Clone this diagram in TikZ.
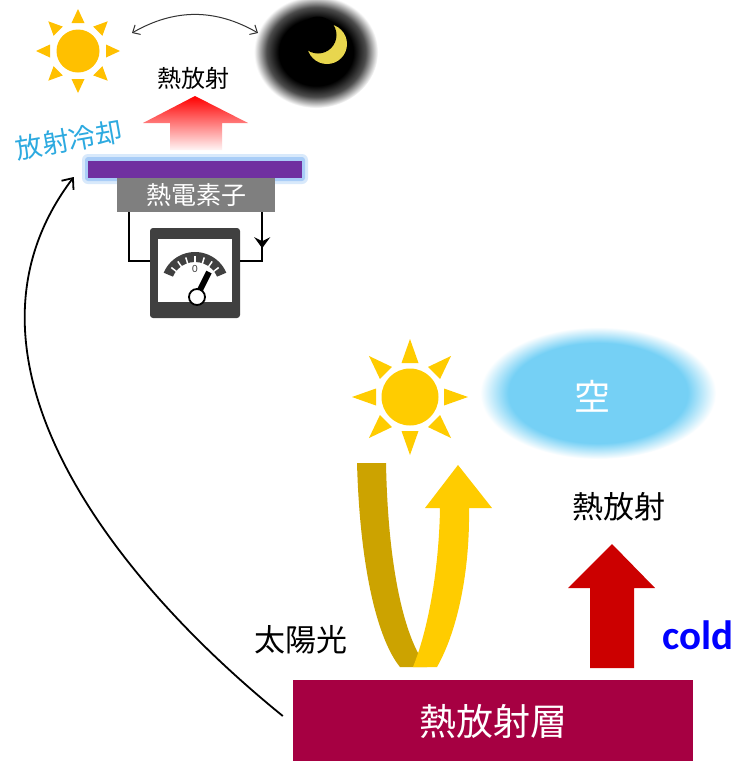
\documentclass[tikz,border=0pt]{standalone}
\usepackage{fontspec}
\newfontfamily\jpfont{Noto Sans CJK JP}
\newfontfamily\latinfont{Carlito}
\usetikzlibrary{arrows.meta}

\definecolor{sunyellow}{HTML}{FFC000}
\definecolor{lightyellow}{HTML}{FFCC00}
\definecolor{darkgold}{HTML}{CCA300}
\definecolor{moonyellow}{HTML}{E8D64E}
\definecolor{skyblue}{HTML}{75D0F5}
\definecolor{coolblue}{HTML}{2DAAE0}
\definecolor{barpurple}{HTML}{7030A0}
\definecolor{glowblue}{HTML}{A9CDF7}
\definecolor{tegray}{HTML}{7F7F7F}
\definecolor{meterdark}{HTML}{404040}
\definecolor{layerred}{HTML}{A60042}
\definecolor{heatred}{HTML}{CC0000}

% soft edges for the night sky and the sky
\pgfdeclareradialshading{moonglow}{\pgfpoint{0bp}{0bp}}{color(0bp)=(black); color(15bp)=(black); color(20bp)=(black!70); color(25bp)=(white); color(50bp)=(white)}
\pgfdeclareradialshading{skyglow}{\pgfpoint{0bp}{0bp}}{color(0bp)=(skyblue); color(19bp)=(skyblue); color(25bp)=(white); color(50bp)=(white)}

\tikzset{
  jp/.style={font=\jpfont\fontsize{#1}{#1}\selectfont},
  wire/.style={line width=2pt,black},
}

\begin{document}
\begin{tikzpicture}[x=1pt,y=-1pt]
\fill[white] (0,0) rectangle (737,761);
\useasboundingbox (0,0) rectangle (737,761);

% day and night
\begin{scope}[shift={(78,51)}]
\fill[sunyellow] (0,0) circle (21.5);
\foreach \a in {0,45,...,315}
  \fill[sunyellow,rotate=\a] (28,-6.5) -- (42,0) -- (28,6.5) -- cycle;
\end{scope}
\coordinate (daysun) at (78,51);
\shade[shading=moonglow] (316,52) ellipse (62 and 56);
\fill[moonyellow] (327,44) circle (20);
\fill[black] (318,35) circle (18.5);
\coordinate (nightmoon) at (316,52);
\draw[line width=1pt,black!80,{Straight Barb[length=6pt,width=11pt]}-{Straight Barb[length=6pt,width=11pt]}]
  ([shift={(54,-18)}]daysun) to[bend left=30] ([shift={(-58,-19)}]nightmoon);

% radiation from the top plate
\node[jp=24] (topheat) at (193,78) {熱放射};
\shade[top color=red,bottom color=red!4] (170,150) -- (170,123) -- (143,123) -- (195,96)
  -- (248,123) -- (222,123) -- (222,150) -- cycle;
\node[jp=27,text=coolblue,rotate=10,inner sep=0] (cooling) at (69,140) {放射冷却};

% plate, thermoelectric element and meter
\fill[glowblue!45,rounded corners=6] (82,154) rectangle (308,184);
\fill[glowblue,rounded corners=3] (85,157) rectangle (305,181);
\node[fill=barpurple,minimum width=214,minimum height=17,inner sep=0] (bar) at (195,169) {};
\node[fill=tegray,minimum width=158,minimum height=34,inner sep=0,text=white,jp=25] (tec) at (196,195) {熱電素子};
\node[fill=meterdark,rounded corners=3,minimum width=90,minimum height=90,inner sep=0] (meter) at (195,273) {};
\fill[white] (158,239) rectangle (232,302);
\begin{scope}[shift={(195,286)}]
\fill[meterdark] (203:34) arc[start angle=203,end angle=337,radius=34]
  -- (337:24) arc[start angle=337,end angle=203,radius=24] -- cycle;
\foreach \a in {218,235,252,270,288,305,322}
  \draw[white,line width=1.5pt] (\a:23) -- (\a:30);
\end{scope}
\node[font=\latinfont\fontsize{11}{11}\selectfont,text=meterdark] (zero) at (195,269) {0};
\draw[black,line width=6pt] (197,296) -- (209,272);
\filldraw[fill=white,draw=black,line width=1.8pt] (197,297) circle (8);
\draw[wire] ([xshift=12]tec.south west) |- ([yshift=12]meter.west);
\draw[wire] ([xshift=-13]tec.south east) |- ([yshift=12]meter.east);
\draw[wire,-{Stealth[length=11pt,width=16pt,inset=4pt]}] ([xshift=-13]tec.south east) -- ++(0,36);

% sun and sky
\begin{scope}[shift={(410,397)}]
\fill[lightyellow] (0,0) circle (28.5);
\foreach \a in {0,45,...,315}
  \fill[lightyellow,rotate=\a] (34,-8.5) -- (58,0) -- (34,8.5) -- cycle;
\end{scope}
\shade[shading=skyglow] (598,393) ellipse (118 and 66);
\node[jp=36,text=white] (sky) at (592,396) {空};

% reflected sunlight
\fill[darkgold] (357,463) -- (386,463) .. controls (388,570) and (405,640) .. (427,667)
  -- (400,667) .. controls (378,640) and (360,570) .. cycle;
\fill[lightyellow] (413,667) .. controls (428,630) and (439,570) .. (440,508) -- (425,508)
  -- (458,465) -- (492,508) -- (469,508) .. controls (470,570) and (458,630) .. (437,667) -- cycle;
\node[jp=31] (sunlight) at (301,640) {太陽光};

% heat radiation from the layer
\fill[heatred] (590,668) -- (590,588) -- (568,588) -- (612,544) -- (655,588) -- (634,588)
  -- (634,668) -- cycle;
\node[jp=31] (heat) at (619,507) {熱放射};
\node[font=\latinfont\bfseries\fontsize{41}{41}\selectfont,text=blue] (cold) at (698,635) {cold};
\node[fill=layerred,minimum width=400,minimum height=82,inner sep=0,text=white,jp=37] (layer) at (493,721) {熱放射層};

\draw[line width=1.8pt,-{Straight Barb[length=9pt,width=15pt]}] ([xshift=-10,yshift=5]layer.west)
  .. controls (104,571) and (-59,352) .. ([xshift=-14,yshift=-8]bar.west);
\end{tikzpicture}
\end{document}
